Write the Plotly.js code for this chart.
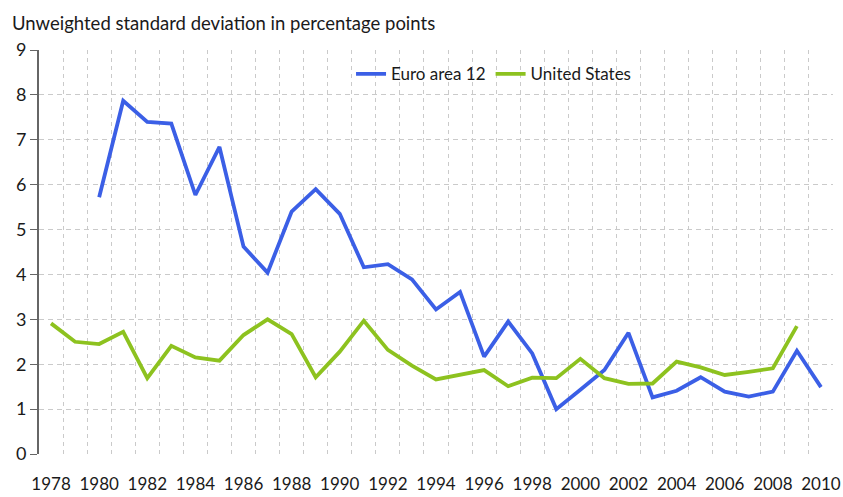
<!DOCTYPE html>
<html>
<head>
<meta charset="utf-8">
<script src="https://cdn.plot.ly/plotly-3.0.1.min.js"></script>
<style>html,body{margin:0;padding:0;background:#fff;}#chart{width:843px;height:497px;}</style>
</head>
<body>
<div id="chart"></div>
<script>
var years = [1978,1979,1980,1981,1982,1983,1984,1985,1986,1987,1988,1989,1990,1991,1992,1993,1994,1995,1996,1997,1998,1999,2000,2001,2002,2003,2004,2005,2006,2007,2008,2009,2010];
var euroArea12 = [null,null,5.72,7.87,7.40,7.36,5.77,6.84,4.62,4.04,5.40,5.90,5.35,4.16,4.23,3.89,3.22,3.61,2.17,2.95,2.24,1.00,1.43,1.87,2.70,1.26,1.41,1.71,1.39,1.28,1.39,2.30,1.49];
var unitedStates = [2.91,2.50,2.45,2.72,1.69,2.41,2.15,2.08,2.65,3.00,2.67,1.71,2.28,2.97,2.32,1.97,1.66,1.76,1.87,1.51,1.70,1.69,2.12,1.69,1.56,1.57,2.06,1.93,1.76,1.83,1.91,2.85,null];
var xTickVals = [1978,1980,1982,1984,1986,1988,1990,1992,1994,1996,1998,2000,2002,2004,2006,2008,2010];
var yTickVals = [0,1,2,3,4,5,6,7,8,9];

var font = "Lato, 'Open Sans', sans-serif";
var traces = [
  {x: years, y: euroArea12, name: 'Euro area 12', type: 'scatter', mode: 'lines',
   line: {color: '#3b5fe6', width: 3.8}, connectgaps: false},
  {x: years, y: unitedStates, name: 'United States', type: 'scatter', mode: 'lines',
   line: {color: '#8dc21f', width: 3.8}, connectgaps: false}
];
var layout = {
  width: 843, height: 497,
  margin: {l: 39, r: 10, t: 50, b: 43},
  paper_bgcolor: '#ffffff', plot_bgcolor: '#ffffff',
  font: {family: font, color: '#1a1a1a', size: 17},
  showlegend: true,
  legend: {orientation: 'h', x: 0.393, y: 0.94, xanchor: 'left', yanchor: 'middle',
           font: {family: font, size: 17, color: '#1a1a1a'}, bgcolor: 'rgba(0,0,0,0)',
           itemwidth: 30, tracegroupgap: 0},
  annotations: [{text: 'Unweighted standard deviation in percentage points', xref: 'paper', yref: 'paper',
    x: -0.036, y: 1.035, xanchor: 'left', yanchor: 'bottom', showarrow: false,
    font: {family: font, size: 18.5, color: '#1a1a1a'}}],
  xaxis: {range: [1977.5, 2010.5], tickmode: 'array', tickvals: xTickVals, ticktext: xTickVals.map(String),
    showgrid: false, zeroline: false, showline: false, ticks: '', ticklabelstandoff: 18,
    tickfont: {family: font, size: 17, color: '#1a1a1a'},
    minor: {tickmode: 'linear', tick0: 1977.5, dtick: 1, showgrid: true, gridcolor: '#cacaca', griddash: '4px,4px', gridwidth: 1, ticks: ''}},
  yaxis: {range: [0, 9], tickmode: 'array', tickvals: yTickVals, showgrid: true, gridcolor: '#cacaca',
    griddash: '5px,4px', gridwidth: 1, zeroline: false, showline: true, linecolor: '#666666', linewidth: 2,
    ticks: 'outside', ticklen: 7, tickcolor: '#666666', tickwidth: 1,
    tickfont: {family: font, size: 18, color: '#1a1a1a'}}
};
Plotly.newPlot('chart', traces, layout, {displayModeBar: false, staticPlot: true});
</script>
</body>
</html>
